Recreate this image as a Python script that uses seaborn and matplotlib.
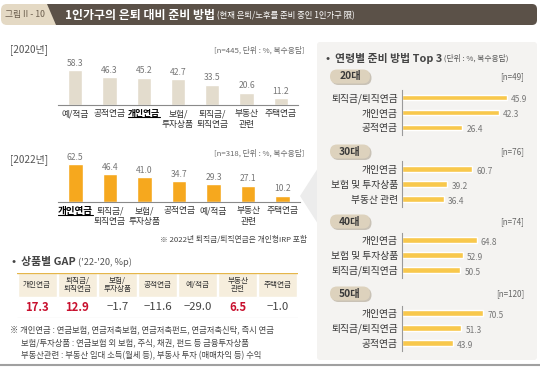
import matplotlib
matplotlib.use("Agg")
import matplotlib.pyplot as plt
from matplotlib.patches import FancyBboxPatch, Polygon
from matplotlib.lines import Line2D
import pandas as pd
import seaborn as sns

sns.set_style("white")
plt.rcParams["font.family"] = ["Noto Sans CJK KR", "DejaVu Sans"]

W, H = 540, 368

# ── 데이터 ──────────────────────────────
cats_2020 = ["예/적금", "공적연금", "개인연금", "보험/\n투자상품", "퇴직금/\n퇴직연금", "부동산\n관련", "주택연금"]
vals_2020 = [58.3, 46.3, 45.2, 42.7, 33.5, 20.6, 11.2]

cats_2022 = ["개인연금", "퇴직금/\n퇴직연금", "보험/\n투자상품", "공적연금", "예/적금", "부동산\n관련", "주택연금"]
vals_2022 = [62.5, 46.4, 41.0, 34.7, 29.3, 27.1, 10.2]

gap_cats = ["개인연금", "퇴직금/\n퇴직연금", "보험/\n투자상품", "공적연금", "예/적금", "부동산\n관련", "주택연금"]
gap_vals = [17.3, 12.9, -1.7, -11.6, -29.0, 6.5, -1.0]

age_groups = ["20대", "30대", "40대", "50대"]
age_n = [49, 76, 74, 120]
items_20 = ["퇴직금/퇴직연금", "개인연금", "공적연금"]
vals_20 = [45.9, 42.3, 26.4]
items_30 = ["개인연금", "보험 및 투자상품", "부동산 관련"]
vals_30 = [60.7, 39.2, 36.4]
items_40 = ["개인연금", "보험 및 투자상품", "퇴직금/퇴직연금"]
vals_40 = [64.8, 52.9, 50.5]
items_50 = ["개인연금", "퇴직금/퇴직연금", "공적연금"]
vals_50 = [70.5, 51.3, 43.9]

BEIGE = "#e3dccd"
ORANGE = "#f6a81e"
YELLOW = "#f8c84c"
BROWN = "#5b5148"
TXT = "#333333"
GRAY = "#777777"

fig = plt.figure(figsize=(W / 100, H / 100), dpi=100)

# 배경용 픽셀 좌표 축
bg = fig.add_axes([0, 0, 1, 1])
bg.set_xlim(0, W)
bg.set_ylim(H, 0)
bg.axis("off")
bg.set_zorder(-1)


def px_axes(x0, y0, x1, y1):
    ax = fig.add_axes([x0 / W, 1 - y1 / H, (x1 - x0) / W, (y1 - y0) / H])
    ax.set_facecolor("none")
    return ax


# ── 헤더 ──────────────────────────────
bg.add_patch(FancyBboxPatch((1, 4), 60, 21, boxstyle="round,pad=0,rounding_size=6",
                            fc="#e4d9c4", ec="none"))
bg.add_patch(FancyBboxPatch((55, 4), 482, 21, boxstyle="round,pad=0,rounding_size=5",
                            fc=BROWN, ec="none"))
bg.add_patch(Polygon([(47, 4), (62, 4), (62, 25), (56, 25)], closed=True, fc=BROWN, ec="none"))
bg.text(25, 15, "그림 II - 10", ha="center", va="center", fontsize=6.3, color="#6b5e4e")
title = bg.text(65, 15, "1인가구의 은퇴 대비 준비 방법", ha="left", va="center",
                fontsize=8.6, fontweight="bold", color="white")
bg.annotate(" (현재 은퇴/노후를 준비 중인 1인가구 限)", xy=(1, 0.1), xycoords=title,
            ha="left", va="bottom", fontsize=6, color="white")

# ── 왼쪽 세로 막대 ─────────────────────


def draw_columns(box, cats, vals, color, bold_idx, bold_size):
    ax = px_axes(*box)
    df = pd.DataFrame({"cat": cats, "val": vals})
    sns.barplot(data=df, x="cat", y="val", color=color, saturation=1, width=0.42,
                errorbar=None, ax=ax)
    ax.set_xlim(-0.5, len(cats) - 0.5)
    ax.set_ylim(0, 75)
    for i, v in enumerate(vals):
        ax.text(i, v + 4, f"{v:.1f}", ha="center", va="bottom", fontsize=6.2, color=GRAY)
    for s in ["top", "left", "right"]:
        ax.spines[s].set_visible(False)
    ax.spines["bottom"].set_color("#8a8a8a")
    ax.spines["bottom"].set_linewidth(0.8)
    ax.set_yticks([])
    ax.set_xlabel("")
    ax.set_ylabel("")
    ax.tick_params(axis="x", length=0, pad=3, labelsize=6.3, labelcolor=TXT)
    for lab in ax.get_xticklabels():
        lab.set_linespacing(1.25)
    lab = ax.get_xticklabels()[bold_idx]
    lab.set_fontweight("bold")
    lab.set_fontsize(bold_size)
    lab.set_color("black")
    return ax


bg.text(10, 50, "[2020년]", ha="left", va="center", fontsize=7.2, color="#555555")
bg.text(305, 50, "[n=445, 단위 : %, 복수응답]", ha="right", va="center", fontsize=5.6, color="#666666")
ax20 = draw_columns((58, 60, 298, 105), cats_2020, vals_2020, BEIGE, 2, 6.3)

bg.text(10, 160, "[2022년]", ha="left", va="center", fontsize=7.2, color="#555555")
bg.text(305, 153, "[n=318, 단위 : %, 복수응답]", ha="right", va="center", fontsize=5.6, color="#666666")
ax22 = draw_columns((58, 157, 300, 202), cats_2022, vals_2022, ORANGE, 0, 6.9)
bg.text(307, 240, "※ 2022년 퇴직금/퇴직연금은 개인형IRP 포함", ha="right", va="center",
        fontsize=5.6, color="#444444")

# ── 상품별 GAP 표 ─────────────────────
gap_title = bg.text(12, 262, "•  상품별 GAP", ha="left", va="center", fontsize=7.8,
                    fontweight="bold", color="#444444")
bg.annotate(" ('22-'20, %p)", xy=(1, 0.5), xycoords=gap_title, ha="left", va="center",
            fontsize=6.6, color="#555555")

axt = px_axes(17, 273, 298, 318)
xs = list(range(len(gap_cats)))
axt.bar(xs, [24] * len(xs), bottom=0, width=0.97, color="#f6eedd")
axt.set_xlim(-0.5, len(xs) - 0.5)
axt.set_ylim(45, 0)
axt.axhline(0, color="#e5b64a", lw=1.0)
axt.axhline(45, color="#c8c8c8", lw=0.8)
for i, (c, v) in enumerate(zip(gap_cats, gap_vals)):
    axt.text(i, 12, c, ha="center", va="center", fontsize=5.5, color=TXT, linespacing=1.1)
    txt = f"{v:.1f}".replace("-", "−")
    if v > 0:
        axt.text(i, 34.5, txt, ha="center", va="center", fontsize=8.2, fontweight="bold",
                 color="#c8102e")
    else:
        axt.text(i, 34.5, txt, ha="center", va="center", fontsize=8.2, color="#444444")
axt.axis("off")

notes = [
    (10, 330, "※ 개인연금 : 연금보험, 연금저축보험, 연금저축펀드, 연금저축신탁, 즉시 연금"),
    (21, 343, "보험/투자상품 : 연금보험 외 보험, 주식, 채권, 펀드 등 금융투자상품"),
    (21, 356, "부동산관련 : 부동산 임대 소득(월세 등), 부동사 투자 (매매차익 등) 수익"),
]
for x, y, t in notes:
    bg.text(x, y, t, ha="left", va="center", fontsize=6, color="#444444")

# ── 오른쪽 패널 ───────────────────────
bg.add_patch(Polygon([(318, 168), (300, 196), (318, 224)], closed=True, fc="#ececec", ec="none"))
bg.add_patch(FancyBboxPatch((317, 42), 220, 318, boxstyle="round,pad=0,rounding_size=3",
                            fc="#f4f3f1", ec="none"))
pt = bg.text(326, 58, "•  연령별 준비 방법 Top 3", ha="left", va="center", fontsize=7.8,
             fontweight="bold", color="#444444")
bg.annotate(" (단위 : %, 복수응답)", xy=(1, 0.5), xycoords=pt, ha="left", va="center",
            fontsize=5.6, color="#555555")

group_items = [items_20, items_30, items_40, items_50]
group_vals = [vals_20, vals_30, vals_40, vals_50]
pill_y = [77, 152, 222, 294]
rows_top = [90, 161.5, 232.5, 305.5]
xmaxes = [56, 111, 111, 111]

for g, n, items, vals, py, top, xmax in zip(age_groups, age_n, group_items, group_vals,
                                             pill_y, rows_top, xmaxes):
    bg.add_patch(FancyBboxPatch((331.5, py - 6), 40, 14, boxstyle="round,pad=0,rounding_size=7",
                                fc="#c9c2b6", ec="none"))
    bg.add_patch(FancyBboxPatch((330, py - 7.5), 40, 14, boxstyle="round,pad=0,rounding_size=7",
                                fc="#ddd2bd", ec="none"))
    bg.text(350, py - 0.5, g, ha="center", va="center", fontsize=7.4, fontweight="bold",
            color="#3a3a3a")
    bg.text(524, py, f"[n={n}]", ha="right", va="center", fontsize=5.8, color="#666666")

    ax = px_axes(402, top, 530, top + 45)
    df = pd.DataFrame({"item": items, "val": vals})
    sns.barplot(data=df, x="val", y="item", orient="h", color=YELLOW, saturation=1,
                width=0.36, errorbar=None, ax=ax)
    ax.set_xlim(0, xmax)
    ax.set_ylim(2.5, -0.5)
    for i, v in enumerate(vals):
        ax.annotate(f"{v:.1f}", xy=(v, i), xytext=(3, -1.5), textcoords="offset points",
                    ha="left", va="center", fontsize=6, color=GRAY)
    for s in ["top", "bottom", "right"]:
        ax.spines[s].set_visible(False)
    ax.spines["left"].set_color("#9a9a9a")
    ax.spines["left"].set_linewidth(0.8)
    ax.set_xticks([])
    ax.set_xlabel("")
    ax.set_ylabel("")
    ax.tick_params(axis="y", length=0, pad=3, labelsize=7, labelcolor=TXT)

# 하단 선
bg.plot([0, W], [365, 365], color="#a0a0a0", lw=1.5)

# '개인연금' 밑줄
fig.canvas.draw()
for ax, idx in [(ax20, 2), (ax22, 0)]:
    bb = ax.get_xticklabels()[idx].get_window_extent()
    fig.add_artist(Line2D([bb.x0, bb.x1], [bb.y0 + 1, bb.y0 + 1],
                          transform=None, color="black", lw=0.8))

fig.savefig("out.png", dpi=100)
